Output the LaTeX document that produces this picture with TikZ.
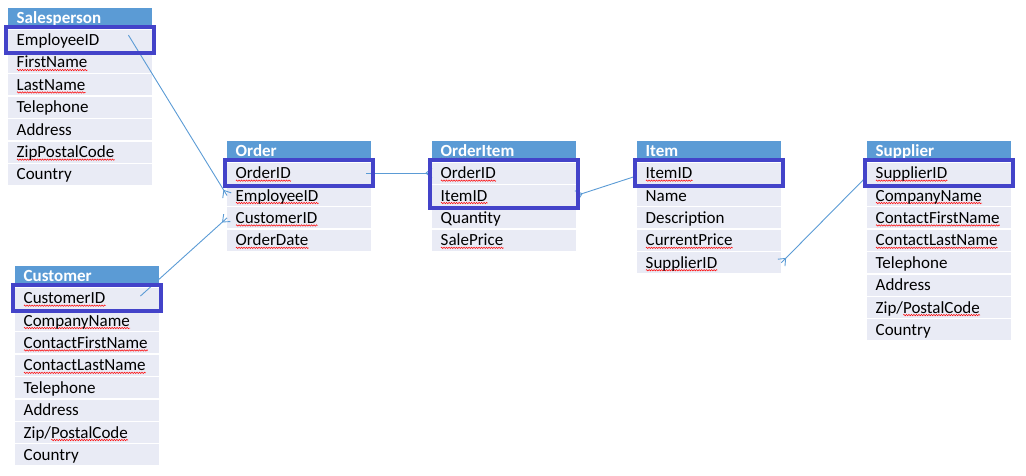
\documentclass[tikz,border=0pt]{standalone}
\usepackage{fontspec}
\setmainfont{Carlito}
\usetikzlibrary{positioning,calc,fit,decorations.pathmorphing}
\definecolor{headblue}{RGB}{91,155,213}
\definecolor{rowgray}{RGB}{233,235,245}
\definecolor{keyblue}{RGB}{67,67,201}
\newsavebox{\typobox}
\newcommand{\typo}[1]{\sbox\typobox{#1}\rlap{\raisebox{-3pt}[0pt][0pt]{\tikz[x=1pt,y=1pt]
  \draw[red, line width=0.5pt, decorate, decoration={zigzag, amplitude=0.7pt, segment length=2.5pt}]
  (0,0) -- (\wd\typobox,0);}}\usebox\typobox}
% many-side crow's foot: #1 = far end, #2 = end at the table
\newcommand{\crowfoot}[2]{%
  \draw[relline] ($(#2)!6pt!(#1)$) -- ($(#2)!5pt!90:(#1)$)
                 ($(#2)!6pt!(#1)$) -- ($(#2)!5pt!-90:(#1)$);}
\tikzset{
  tblhead/.style={anchor=north west, fill=headblue, text=white,
    font=\fontsize{17pt}{20pt}\selectfont\bfseries,
    minimum width=144pt, minimum height=20pt, text width=127pt,
    inner xsep=8.5pt, inner ysep=0pt, text height=11pt, text depth=0pt, align=left},
  tblrow/.style={below=1pt of #1, fill=rowgray,
    font=\fontsize{17pt}{20pt}\selectfont,
    minimum width=144pt, minimum height=21pt, text width=127pt,
    inner xsep=8.5pt, inner ysep=0pt, text height=11pt, text depth=0pt, align=left},
  keybox/.style={draw=keyblue, line width=4pt, inner sep=2pt},
  relline/.style={draw=headblue, line width=0.9pt}
}

\begin{document}
\begin{tikzpicture}[x=1pt, y=-1pt, node distance=1pt]
  \useasboundingbox (0,0) rectangle (1026,476);

  % Salesperson table
  \node[tblhead] (sp) at (8,8) {Salesperson};
  \node[tblrow=sp] (sp1) {EmployeeID};
  \node[tblrow=sp1] (sp2) {\typo{FirstName}};
  \node[tblrow=sp2] (sp3) {\typo{LastName}};
  \node[tblrow=sp3] (sp4) {Telephone};
  \node[tblrow=sp4] (sp5) {Address};
  \node[tblrow=sp5] (sp6) {\typo{ZipPostalCode}};
  \node[tblrow=sp6] (sp7) {Country};

  % Customer table
  \node[tblhead] (cu) at (15,266) {Customer};
  \node[tblrow=cu] (cu1) {\typo{CustomerID}};
  \node[tblrow=cu1] (cu2) {\typo{CompanyName}};
  \node[tblrow=cu2] (cu3) {\typo{ContactFirstName}};
  \node[tblrow=cu3] (cu4) {\typo{ContactLastName}};
  \node[tblrow=cu4] (cu5) {Telephone};
  \node[tblrow=cu5] (cu6) {Address};
  \node[tblrow=cu6] (cu7) {Zip/\typo{PostalCode}};
  \node[tblrow=cu7] (cu8) {Country};

  % Order table
  \node[tblhead] (or) at (227,141) {Order};
  \node[tblrow=or] (or1) {\typo{OrderID}};
  \node[tblrow=or1] (or2) {\typo{EmployeeID}};
  \node[tblrow=or2] (or3) {\typo{CustomerID}};
  \node[tblrow=or3] (or4) {\typo{OrderDate}};

  % OrderItem table
  \node[tblhead] (oi) at (432,141) {\typo{OrderItem}};
  \node[tblrow=oi] (oi1) {\typo{OrderID}};
  \node[tblrow=oi1] (oi2) {\typo{ItemID}};
  \node[tblrow=oi2] (oi3) {Quantity};
  \node[tblrow=oi3] (oi4) {\typo{SalePrice}};

  % Item table
  \node[tblhead] (it) at (637,141) {Item};
  \node[tblrow=it] (it1) {\typo{ItemID}};
  \node[tblrow=it1] (it2) {Name};
  \node[tblrow=it2] (it3) {Description};
  \node[tblrow=it3] (it4) {\typo{CurrentPrice}};
  \node[tblrow=it4] (it5) {\typo{SupplierID}};

  % Supplier table
  \node[tblhead] (su) at (867,141) {Supplier};
  \node[tblrow=su] (su1) {\typo{SupplierID}};
  \node[tblrow=su1] (su2) {\typo{CompanyName}};
  \node[tblrow=su2] (su3) {\typo{ContactFirstName}};
  \node[tblrow=su3] (su4) {\typo{ContactLastName}};
  \node[tblrow=su4] (su5) {Telephone};
  \node[tblrow=su5] (su6) {Address};
  \node[tblrow=su6] (su7) {Zip/\typo{PostalCode}};
  \node[tblrow=su7] (su8) {Country};

  % Relationship lines (crow's foot on the many side)
  \coordinate (spfk) at ($(sp1.east)+(-24,-5)$);
  \coordinate (cufk) at ($(cu1.east)+(-19,-2)$);
  \coordinate (orfk) at ($(or1.east)+(-5,0)$);
  \coordinate (itfk) at ($(it1.west)+(-4,4)$);
  \coordinate (sufk) at ($(su1.west)+(-2,5)$);
  \draw[relline] (spfk) -- (or2.west);
  \draw[relline] (cufk) -- (or3.west);
  \draw[relline] (orfk) -- (oi1.west);
  \draw[relline] (itfk) -- (oi2.east);
  \draw[relline] (sufk) -- (it5.east);
  \crowfoot{spfk}{or2.west}
  \crowfoot{cufk}{or3.west}
  \crowfoot{orfk}{oi1.west}
  \crowfoot{itfk}{oi2.east}
  \crowfoot{sufk}{it5.east}

  % Primary key boxes
  \node[keybox, fit=(sp1)] (spkey) {};
  \node[keybox, fit=(cu1)] (cukey) {};
  \node[keybox, fit=(or1)] (orkey) {};
  \node[keybox, fit=(oi1)(oi2)] (oikey) {};
  \node[keybox, fit=(it1)] (itkey) {};
  \node[keybox, fit=(su1)] (sukey) {};
\end{tikzpicture}
\end{document}
